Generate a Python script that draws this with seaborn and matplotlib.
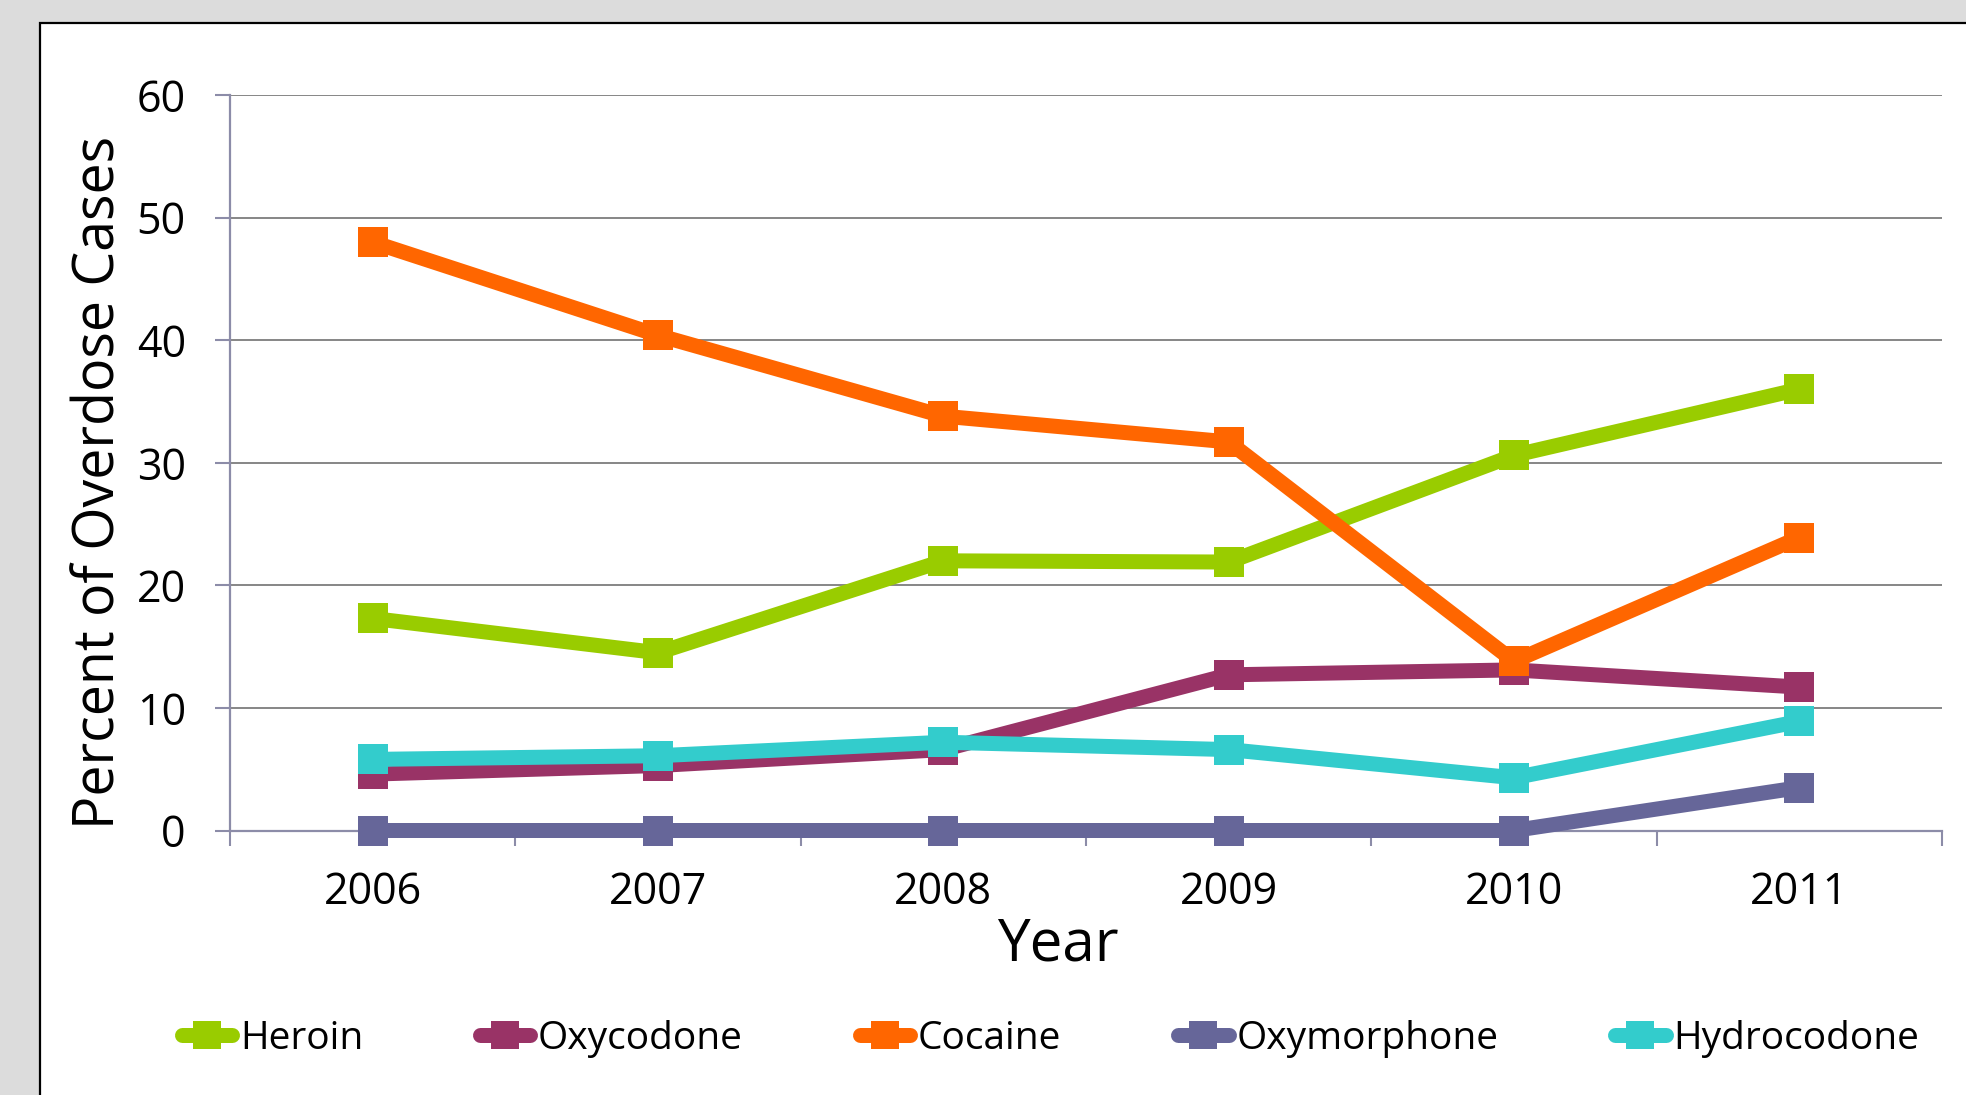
import matplotlib
matplotlib.use("Agg")
import matplotlib.pyplot as plt
from matplotlib.lines import Line2D
from matplotlib.patches import Rectangle
import seaborn as sns
import pandas as pd

years = [2006, 2007, 2008, 2009, 2010, 2011]
drugs = ["Heroin", "Oxycodone", "Cocaine", "Oxymorphone", "Hydrocodone"]
heroin = [17.3, 14.5, 22.0, 21.9, 30.6, 36.0]
oxycodone = [4.6, 5.3, 6.6, 12.7, 13.1, 11.7]
cocaine = [48.0, 40.4, 33.8, 31.7, 13.8, 23.9]
oxymorphone = [0.0, 0.0, 0.0, 0.0, 0.0, 3.5]
hydrocodone = [5.8, 6.1, 7.2, 6.6, 4.3, 8.9]
colors = ["#99CC00", "#993366", "#FF6600", "#666699", "#33CCCC"]
y_ticks = [0, 10, 20, 30, 40, 50, 60]

series = [heroin, oxycodone, cocaine, oxymorphone, hydrocodone]
rows = []
for name, vals in zip(drugs, series):
    for yr, v in zip(years, vals):
        rows.append({"Year": yr, "Percent": v, "Drug": name})
df = pd.DataFrame(rows)

sns.set_style("white")
plt.rcParams["font.family"] = ["Open Sans", "DejaVu Sans"]
plt.rcParams["text.color"] = "black"
plt.rcParams["axes.labelcolor"] = "black"
plt.rcParams["xtick.labelcolor"] = "black"
plt.rcParams["ytick.labelcolor"] = "black"

W, H = 1966, 1095
fig = plt.figure(figsize=(W / 100, H / 100), dpi=100)
fig.patch.set_facecolor("#dcdcdc")

# white panel with black border (left and top visible)
panel = Rectangle((40 / W, -0.2), 1.5, (H - 23) / H + 0.2, transform=fig.transFigure,
                  facecolor="white", edgecolor="black", linewidth=1.6, zorder=0)
fig.add_artist(panel)

ax = fig.add_axes([230 / W, 1 - 830.5 / H, 1712 / W, 735.5 / H])
ax.set_facecolor("none")

axis_col = "#8c8ca8"
lw = 10.8
ms = 22

sns.lineplot(data=df, x="Year", y="Percent", hue="Drug", hue_order=drugs,
             palette=dict(zip(drugs, colors)), marker="s", markersize=ms,
             markeredgewidth=0, linewidth=lw, errorbar=None, sort=False,
             legend=False, ax=ax, zorder=3, clip_on=False)

ax.set_xlim(years[0] - 0.5, years[-1] + 0.5)
ax.set_ylim(0, 60)
ax.set_yticks(y_ticks)
ax.set_yticklabels([str(t) for t in y_ticks], fontsize=31, color="black")
ax.set_xticks(years)
ax.set_xticklabels([str(y) for y in years], fontsize=31, color="black")
ax.set_xticks([y - 0.5 for y in years] + [years[-1] + 0.5], minor=True)

ax.yaxis.grid(True, color="#666666", linewidth=1.1, zorder=1)
ax.xaxis.grid(False)
ax.set_axisbelow(True)

for s in ["top", "right"]:
    ax.spines[s].set_visible(False)
for s in ["left", "bottom"]:
    ax.spines[s].set_color(axis_col)
    ax.spines[s].set_linewidth(1.6)

ax.tick_params(axis="y", which="major", direction="out", length=10.8, width=1.5,
               color=axis_col, pad=21, left=True)
ax.tick_params(axis="x", which="major", length=0, pad=29, bottom=True)
ax.tick_params(axis="x", which="minor", direction="out", length=10.8, width=1.5,
               color=axis_col, bottom=True)

ax.set_ylabel("Percent of Overdose Cases", fontsize=40, va="center", color="black")
ax.yaxis.set_label_coords(-0.0762, 0.473)
ax.set_xlabel("Year", fontsize=42, va="center", color="black")
ax.xaxis.set_label_coords(0.4837, -0.1557)

handles = [Line2D([], [], color=c, linewidth=lw, marker="s", markersize=20,
                  markeredgewidth=0, solid_capstyle="round") for c in colors]
leg = fig.legend(handles, drugs, loc="center left", bbox_to_anchor=(181.5 / W, 1 - 1039 / H),
                 ncol=5, frameon=False, fontsize=28, handlelength=1.3,
                 handletextpad=0.2, columnspacing=3.0, borderpad=0, borderaxespad=0)
for t in leg.get_texts():
    t.set_color("black")

fig.savefig("out.png", dpi=100, facecolor=fig.get_facecolor())
